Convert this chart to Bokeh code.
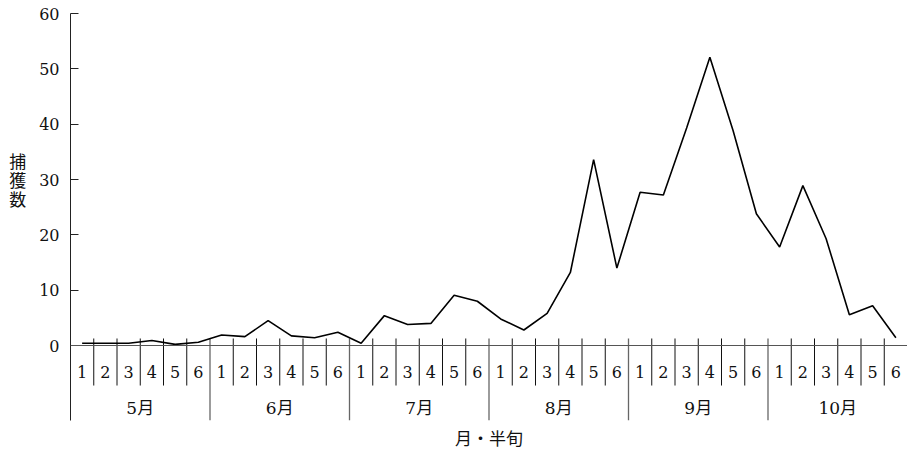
from bokeh.plotting import figure
from bokeh.models import FactorRange, Range1d, FixedTicker, Span, Title, ColumnDataSource
from bokeh.core.properties import value
from bokeh.embed import file_html
from bokeh.resources import INLINE

# ---- data ----
months = ["5月", "6月", "7月", "8月", "9月", "10月"]
halves = ["1", "2", "3", "4", "5", "6"]
may = [0.4, 0.4, 0.4, 0.9, 0.2, 0.6]
jun = [1.9, 1.6, 4.5, 1.75, 1.4, 2.4]
jul = [0.4, 5.4, 3.8, 4.0, 9.1, 8.0]
aug = [4.8, 2.8, 5.8, 13.2, 33.6, 14.0]
sep = [27.7, 27.2, 39.3, 52.1, 38.8, 23.8]
octo = [17.8, 28.9, 19.3, 5.55, 7.2, 1.4]
y_ticks = [0, 10, 20, 30, 40, 50, 60]
y_title = "捕\n獲\n数"
x_title = "月・半旬"

series = [may, jun, jul, aug, sep, octo]
factors = [(m, h) for m in months for h in halves]
counts = [v for s in series for v in s]

NUM_FONT = "DejaVu Serif, Noto Sans CJK JP"
JP_FONT = "Noto Sans CJK JP"

Y_BOTTOM = -13.55
p = figure(width=907, height=451, output_backend="svg", toolbar_location=None,
           x_range=FactorRange(*factors, factor_padding=0, group_padding=0, range_padding=0),
           y_range=Range1d(Y_BOTTOM, 60), x_axis_location=None,
           min_border_left=70, min_border_right=0, min_border_top=13, min_border_bottom=31)
p.outline_line_color = None
p.xgrid.visible = False
p.ygrid.visible = False
p.background_fill_color = "white"

ax = p.yaxis[0]
ax.ticker = FixedTicker(ticks=y_ticks)
ax.major_tick_in = 8
ax.major_tick_out = 0
ax.minor_tick_line_color = None
ax.axis_line_color = "#222222"
ax.major_tick_line_color = "#222222"
ax.major_label_standoff = 11
ax.major_label_text_font = NUM_FONT
ax.major_label_text_font_size = "16px"
ax.major_label_text_color = "#111111"
# stacked title; blank lines below lift the characters to the 0-60 band centre
ax.axis_label = y_title + "\n\n\n\n"
ax.axis_label_orientation = "horizontal"
ax.axis_label_standoff = 10
ax.axis_label_text_font = JP_FONT
ax.axis_label_text_font_size = "17px"
ax.axis_label_text_font_style = "normal"
ax.axis_label_text_line_height = 0.75
ax.axis_label_text_color = "#111111"

# x title below the frame
p.add_layout(Title(text=x_title, align="center", standoff=4,
                   text_font=JP_FONT, text_font_size="17px", text_font_style="normal",
                   text_color="#111111"), "below")

# zero line
p.add_layout(Span(location=0, dimension="width", line_color="#555555", line_width=1.2))

# half-period dividers
hx = [(m, h, -0.5) for m in months for h in halves[1:]]
p.segment(x0=hx, y0=[1.27] * len(hx), x1=hx, y1=[-7.23] * len(hx),
          line_color="#111111", line_width=1)
# month dividers
mx = [(m, halves[0], -0.5) for m in months[1:]]
p.segment(x0=mx, y0=[1.27] * len(mx), x1=mx, y1=[Y_BOTTOM] * len(mx),
          line_color="#666666", line_width=1.3)

# data line
src = ColumnDataSource(dict(x=factors, y=counts))
p.line("x", "y", source=src, line_color="black", line_width=1.6)

# half-period labels
p.text(x=factors, y=[-4.8] * len(factors), text=[f[1] for f in factors],
       text_align="center", text_baseline="middle",
       text_font=value(NUM_FONT), text_font_size="16px", text_color="#111111")
# month labels
mlx = [(m, halves[2], 0.5) for m in months]
p.text(x=mlx, y=[-11.3] * len(months), text=months,
       text_align="center", text_baseline="middle",
       text_font=value(NUM_FONT), text_font_size="17px", text_color="#111111")

open("out.html", "w").write(file_html(p, INLINE))
